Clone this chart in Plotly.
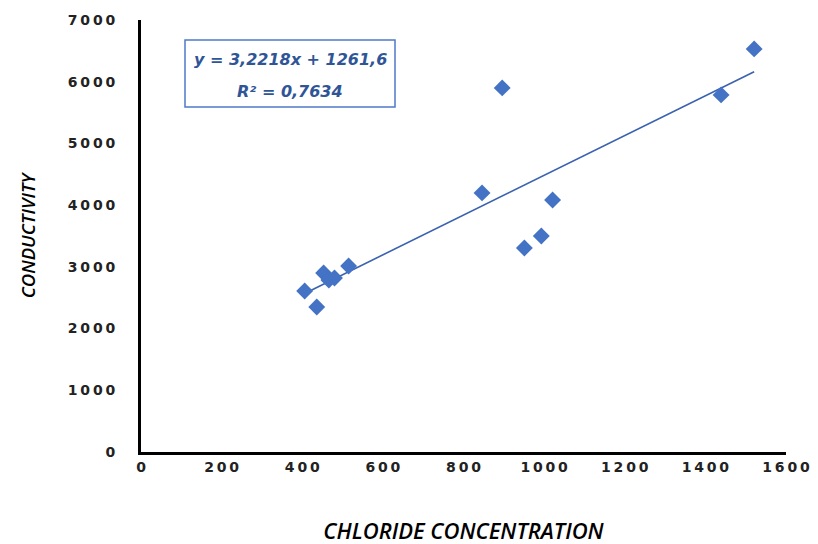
import plotly.graph_objects as go

chloride = [406, 436, 453, 466, 480, 515, 846, 951, 993, 1021, 896, 1439, 1521]
conductivity = [2609, 2350, 2901, 2788, 2820, 3015, 4198, 3306, 3501, 4084, 5900, 5786, 6532]
slope = 3.2218
intercept = 1261.6
r2_text = "0,7634"
x_ticks = [0, 200, 400, 600, 800, 1000, 1200, 1400, 1600]
y_ticks = [0, 1000, 2000, 3000, 4000, 5000, 6000, 7000]

blue = "#4472C4"
xmin, xmax = min(chloride), max(chloride)
sp = "\u2009"


def spaced(v):
    return sp.join(str(v))


def px_x(p):
    return (p - 141) / 645


def px_y(p):
    return (452 - p) / 432


fig = go.Figure()
fig.add_trace(go.Scatter(
    x=[xmin, xmax], y=[slope * xmin + intercept, slope * xmax + intercept],
    mode="lines", line=dict(color="#3A62B0", width=1.6), showlegend=False))
fig.add_trace(go.Scatter(
    x=chloride, y=conductivity, mode="markers",
    marker=dict(symbol="diamond", size=13, color=blue, line=dict(width=0)),
    showlegend=False))

tickfont = dict(family="DejaVu Sans", size=14, color="#222222", weight="bold")
fig.update_layout(
    width=818, height=544, plot_bgcolor="white", paper_bgcolor="white",
    margin=dict(l=133, r=40, t=12, b=100),
    xaxis=dict(range=[0, 1600], tickvals=x_ticks, ticktext=[spaced(v) for v in x_ticks],
               showgrid=False, zeroline=False, automargin=False,
               showline=True, linecolor="black", linewidth=3, ticks="",
               tickfont=tickfont, ticklabelstandoff=0,
               title=dict(text="<i>CHLORIDE CONCENTRATION</i>", standoff=50,
                          font=dict(family="Open Sans", size=22, color="black", weight=600))),
    yaxis=dict(range=[0, 7000], tickvals=y_ticks, ticktext=[spaced(v) for v in y_ticks],
               showgrid=False, zeroline=False, automargin=False,
               showline=True, linecolor="black", linewidth=3, ticks="",
               tickfont=tickfont, ticklabelstandoff=20,
               title=dict(text="<i>CONDUCTIVITY</i>", standoff=28,
                          font=dict(family="Open Sans", size=18.5, color="black", weight=600))),
)
fig.add_shape(type="rect", xref="paper", yref="paper",
              x0=px_x(185), x1=px_x(395), y0=px_y(107), y1=px_y(40),
              line=dict(color="#4F7AC7", width=1.5), fillcolor="white", layer="above")
eq_line = f"<b><i>y = {str(slope).replace('.', ',')}x + {str(intercept).replace('.', ',')}</i></b>"
r2_line = f"<b><i>R² = {r2_text}</i></b>"
for txt, yc in [(eq_line, 60), (r2_line, 91)]:
    fig.add_annotation(
        xref="paper", yref="paper", x=px_x(290), y=px_y(yc),
        xanchor="center", yanchor="middle", text=txt, showarrow=False,
        font=dict(family="DejaVu Sans", size=16, color="#2F5597"))

fig.write_html("out.html")
